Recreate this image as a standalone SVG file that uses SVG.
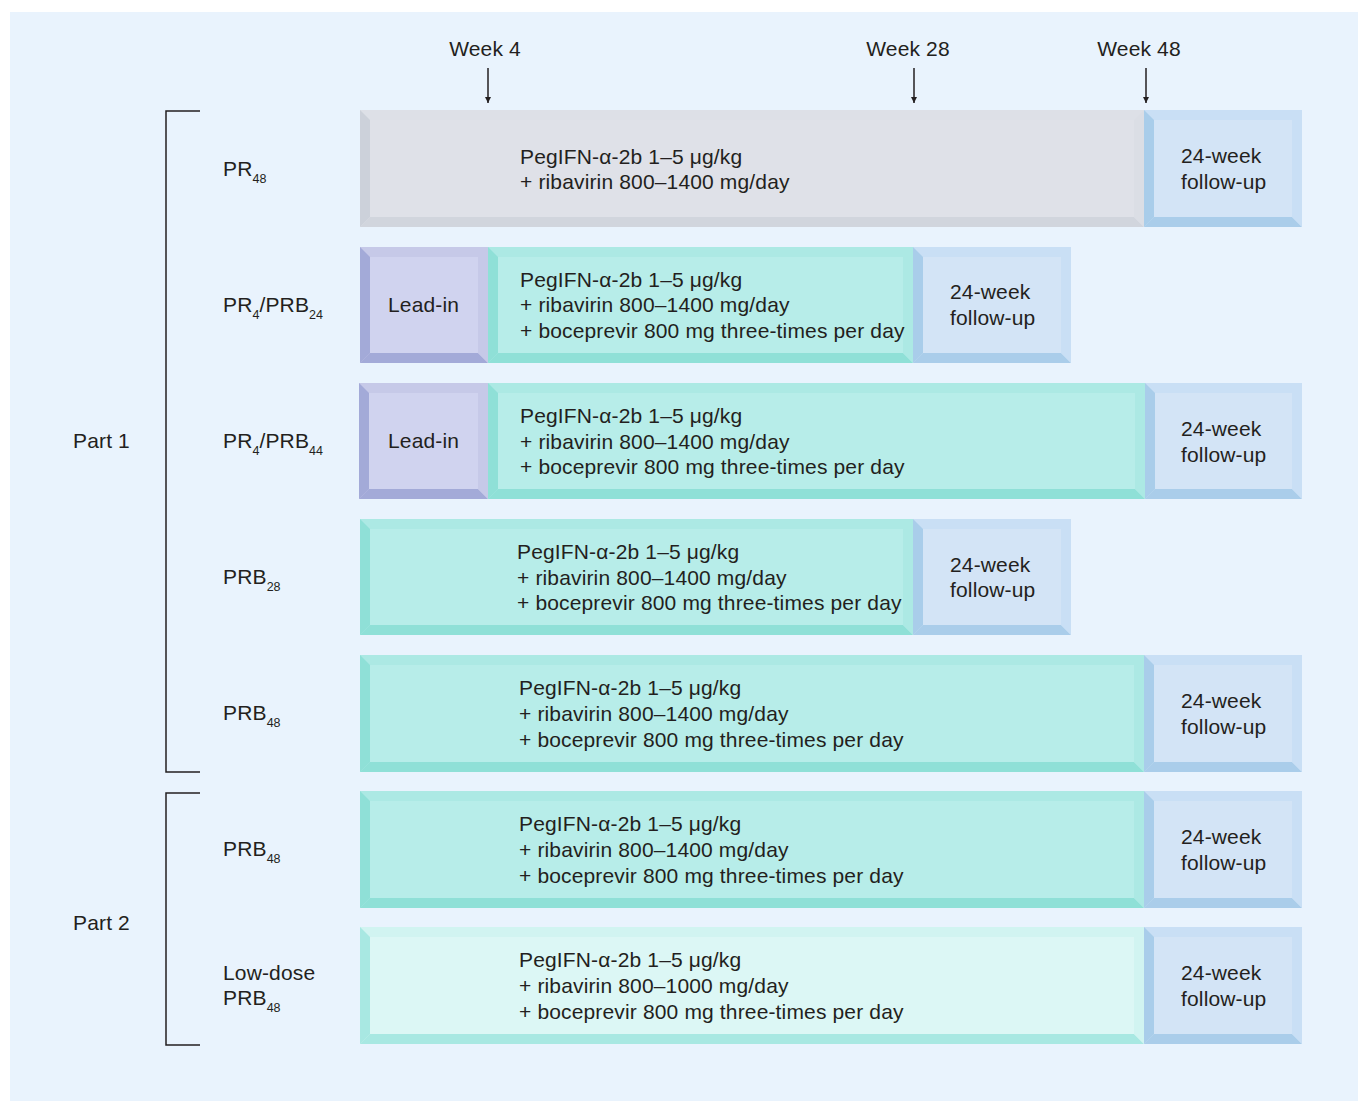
<svg xmlns="http://www.w3.org/2000/svg" width="1358" height="1101" viewBox="0 0 1358 1101">
<defs>
<style>
text{font-family:"Liberation Sans",Arial,sans-serif;font-size:21px;letter-spacing:0.15px;fill:#231f20}
.sub{font-size:12.5px;letter-spacing:0}
.g .t{fill:#dde0e7}.g .l{fill:#ccd1da}.g .b{fill:#d1d5dd}.g .r{fill:#dbdee5}.g .f{fill:#dfe1e8}
.u .t{fill:#c9dff5}.u .l{fill:#a9cdea}.u .b{fill:#aacdea}.u .r{fill:#c9dff5}.u .f{fill:#d3e4f6}
.p .t{fill:#c6c9e8}.p .l{fill:#a3aad8}.p .b{fill:#a3aad8}.p .r{fill:#c6c9e8}.p .f{fill:#d0d3ef}
.c .t{fill:#ace9e4}.c .l{fill:#8fe0d7}.c .b{fill:#8fe0d7}.c .r{fill:#ace9e4}.c .f{fill:#b7ede9}
.k .t{fill:#d1f4f1}.k .l{fill:#a8e8e2}.k .b{fill:#a8e8e2}.k .r{fill:#d1f4f1}.k .f{fill:#dcf7f5}
.ln{stroke:#231f20;stroke-width:1.5;fill:none}
</style>
<marker id="ah" viewBox="0 0 10 10" refX="10" refY="5" markerWidth="6" markerHeight="6" orient="auto" markerUnits="userSpaceOnUse">
<path d="M0,0 L10,5 L0,10 z" fill="#231f20"/>
</marker>
</defs>
<rect x="10" y="12" width="1348" height="1089" fill="#e9f3fd"/>

<g id="connectors">
<line class="ln" x1="488" y1="68" x2="488" y2="103" marker-end="url(#ah)"/>
<line class="ln" x1="914" y1="68" x2="914" y2="103" marker-end="url(#ah)"/>
<line class="ln" x1="1146" y1="68" x2="1146" y2="103" marker-end="url(#ah)"/>
<path class="ln" d="M200,111 H166 V772 H200"/>
<path class="ln" d="M200,793 H166 V1045 H200"/>
</g>

<g id="week-labels">
<text x="485" y="56" text-anchor="middle">Week 4</text>
<text x="908" y="56" text-anchor="middle">Week 28</text>
<text x="1139" y="56" text-anchor="middle">Week 48</text>
</g>

<g id="part-labels">
<text x="73" y="448">Part 1</text>
<text x="73" y="930">Part 2</text>
</g>

<g id="row1">
<text x="223" y="176">PR<tspan class="sub" dy="7">48</tspan></text>
<g class="g"><rect class="t" x="360" y="110" width="784" height="117"/><polygon class="l" points="360,110 370,120 370,217 360,227"/><polygon class="b" points="360,227 370,217 1134,217 1144,227"/><polygon class="r" points="1144,110 1144,227 1134,217 1134,120"/><rect class="f" x="370" y="120" width="764" height="97"/></g>
<g class="u"><rect class="t" x="1144" y="110" width="158" height="117"/><polygon class="l" points="1144,110 1154,120 1154,217 1144,227"/><polygon class="b" points="1144,227 1154,217 1292,217 1302,227"/><polygon class="r" points="1302,110 1302,227 1292,217 1292,120"/><rect class="f" x="1154" y="120" width="138" height="97"/></g>
<text x="520" y="164">PegIFN-α-2b 1–5 μg/kg</text>
<text x="520" y="189">+ ribavirin 800–1400 mg/day</text>
<text x="1181" y="163">24-week</text>
<text x="1181" y="189">follow-up</text>
</g>

<g id="row2">
<text x="223" y="312">PR<tspan class="sub" dy="7">4</tspan><tspan dy="-7">/PRB</tspan><tspan class="sub" dy="7">24</tspan></text>
<g class="p"><rect class="t" x="360" y="247" width="128" height="116"/><polygon class="l" points="360,247 370,257 370,353 360,363"/><polygon class="b" points="360,363 370,353 478,353 488,363"/><polygon class="r" points="488,247 488,363 478,353 478,257"/><rect class="f" x="370" y="257" width="108" height="96"/></g>
<g class="c"><rect class="t" x="488" y="247" width="425" height="116"/><polygon class="l" points="488,247 498,257 498,353 488,363"/><polygon class="b" points="488,363 498,353 903,353 913,363"/><polygon class="r" points="913,247 913,363 903,353 903,257"/><rect class="f" x="498" y="257" width="405" height="96"/></g>
<g class="u"><rect class="t" x="913" y="247" width="158" height="116"/><polygon class="l" points="913,247 923,257 923,353 913,363"/><polygon class="b" points="913,363 923,353 1061,353 1071,363"/><polygon class="r" points="1071,247 1071,363 1061,353 1061,257"/><rect class="f" x="923" y="257" width="138" height="96"/></g>
<text x="388" y="312">Lead-in</text>
<text x="520" y="287">PegIFN-α-2b 1–5 μg/kg</text>
<text x="520" y="312">+ ribavirin 800–1400 mg/day</text>
<text x="520" y="338">+ boceprevir 800 mg three-times per day</text>
<text x="950" y="299">24-week</text>
<text x="950" y="325">follow-up</text>
</g>

<g id="row3">
<text x="223" y="448">PR<tspan class="sub" dy="7">4</tspan><tspan dy="-7">/PRB</tspan><tspan class="sub" dy="7">44</tspan></text>
<g class="p"><rect class="t" x="359" y="383" width="129" height="116"/><polygon class="l" points="359,383 369,393 369,489 359,499"/><polygon class="b" points="359,499 369,489 478,489 488,499"/><polygon class="r" points="488,383 488,499 478,489 478,393"/><rect class="f" x="369" y="393" width="109" height="96"/></g>
<g class="c"><rect class="t" x="488" y="383" width="657" height="116"/><polygon class="l" points="488,383 498,393 498,489 488,499"/><polygon class="b" points="488,499 498,489 1135,489 1145,499"/><polygon class="r" points="1145,383 1145,499 1135,489 1135,393"/><rect class="f" x="498" y="393" width="637" height="96"/></g>
<g class="u"><rect class="t" x="1145" y="383" width="157" height="116"/><polygon class="l" points="1145,383 1155,393 1155,489 1145,499"/><polygon class="b" points="1145,499 1155,489 1292,489 1302,499"/><polygon class="r" points="1302,383 1302,499 1292,489 1292,393"/><rect class="f" x="1155" y="393" width="137" height="96"/></g>
<text x="388" y="448">Lead-in</text>
<text x="520" y="423">PegIFN-α-2b 1–5 μg/kg</text>
<text x="520" y="449">+ ribavirin 800–1400 mg/day</text>
<text x="520" y="474">+ boceprevir 800 mg three-times per day</text>
<text x="1181" y="436">24-week</text>
<text x="1181" y="462">follow-up</text>
</g>

<g id="row4">
<text x="223" y="584">PRB<tspan class="sub" dy="7">28</tspan></text>
<g class="c"><rect class="t" x="360" y="519" width="553" height="116"/><polygon class="l" points="360,519 370,529 370,625 360,635"/><polygon class="b" points="360,635 370,625 903,625 913,635"/><polygon class="r" points="913,519 913,635 903,625 903,529"/><rect class="f" x="370" y="529" width="533" height="96"/></g>
<g class="u"><rect class="t" x="913" y="519" width="158" height="116"/><polygon class="l" points="913,519 923,529 923,625 913,635"/><polygon class="b" points="913,635 923,625 1061,625 1071,635"/><polygon class="r" points="1071,519 1071,635 1061,625 1061,529"/><rect class="f" x="923" y="529" width="138" height="96"/></g>
<text x="517" y="559">PegIFN-α-2b 1–5 μg/kg</text>
<text x="517" y="585">+ ribavirin 800–1400 mg/day</text>
<text x="517" y="610">+ boceprevir 800 mg three-times per day</text>
<text x="950" y="572">24-week</text>
<text x="950" y="597">follow-up</text>
</g>

<g id="row5">
<text x="223" y="720">PRB<tspan class="sub" dy="7">48</tspan></text>
<g class="c"><rect class="t" x="360" y="655" width="784" height="117"/><polygon class="l" points="360,655 370,665 370,762 360,772"/><polygon class="b" points="360,772 370,762 1134,762 1144,772"/><polygon class="r" points="1144,655 1144,772 1134,762 1134,665"/><rect class="f" x="370" y="665" width="764" height="97"/></g>
<g class="u"><rect class="t" x="1144" y="655" width="158" height="117"/><polygon class="l" points="1144,655 1154,665 1154,762 1144,772"/><polygon class="b" points="1144,772 1154,762 1292,762 1302,772"/><polygon class="r" points="1302,655 1302,772 1292,762 1292,665"/><rect class="f" x="1154" y="665" width="138" height="97"/></g>
<text x="519" y="695">PegIFN-α-2b 1–5 μg/kg</text>
<text x="519" y="721">+ ribavirin 800–1400 mg/day</text>
<text x="519" y="747">+ boceprevir 800 mg three-times per day</text>
<text x="1181" y="708">24-week</text>
<text x="1181" y="734">follow-up</text>
</g>

<g id="row6">
<text x="223" y="856">PRB<tspan class="sub" dy="7">48</tspan></text>
<g class="c"><rect class="t" x="360" y="791" width="784" height="117"/><polygon class="l" points="360,791 370,801 370,898 360,908"/><polygon class="b" points="360,908 370,898 1134,898 1144,908"/><polygon class="r" points="1144,791 1144,908 1134,898 1134,801"/><rect class="f" x="370" y="801" width="764" height="97"/></g>
<g class="u"><rect class="t" x="1144" y="791" width="158" height="117"/><polygon class="l" points="1144,791 1154,801 1154,898 1144,908"/><polygon class="b" points="1144,908 1154,898 1292,898 1302,908"/><polygon class="r" points="1302,791 1302,908 1292,898 1292,801"/><rect class="f" x="1154" y="801" width="138" height="97"/></g>
<text x="519" y="831">PegIFN-α-2b 1–5 μg/kg</text>
<text x="519" y="857">+ ribavirin 800–1400 mg/day</text>
<text x="519" y="883">+ boceprevir 800 mg three-times per day</text>
<text x="1181" y="844">24-week</text>
<text x="1181" y="870">follow-up</text>
</g>

<g id="row7">
<text x="223" y="980">Low-dose</text>
<text x="223" y="1005">PRB<tspan class="sub" dy="7">48</tspan></text>
<g class="k"><rect class="t" x="360" y="927" width="784" height="117"/><polygon class="l" points="360,927 370,937 370,1034 360,1044"/><polygon class="b" points="360,1044 370,1034 1134,1034 1144,1044"/><polygon class="r" points="1144,927 1144,1044 1134,1034 1134,937"/><rect class="f" x="370" y="937" width="764" height="97"/></g>
<g class="u"><rect class="t" x="1144" y="927" width="158" height="117"/><polygon class="l" points="1144,927 1154,937 1154,1034 1144,1044"/><polygon class="b" points="1144,1044 1154,1034 1292,1034 1302,1044"/><polygon class="r" points="1302,927 1302,1044 1292,1034 1292,937"/><rect class="f" x="1154" y="937" width="138" height="97"/></g>
<text x="519" y="967">PegIFN-α-2b 1–5 μg/kg</text>
<text x="519" y="993">+ ribavirin 800–1000 mg/day</text>
<text x="519" y="1019">+ boceprevir 800 mg three-times per day</text>
<text x="1181" y="980">24-week</text>
<text x="1181" y="1006">follow-up</text>
</g>
</svg>
